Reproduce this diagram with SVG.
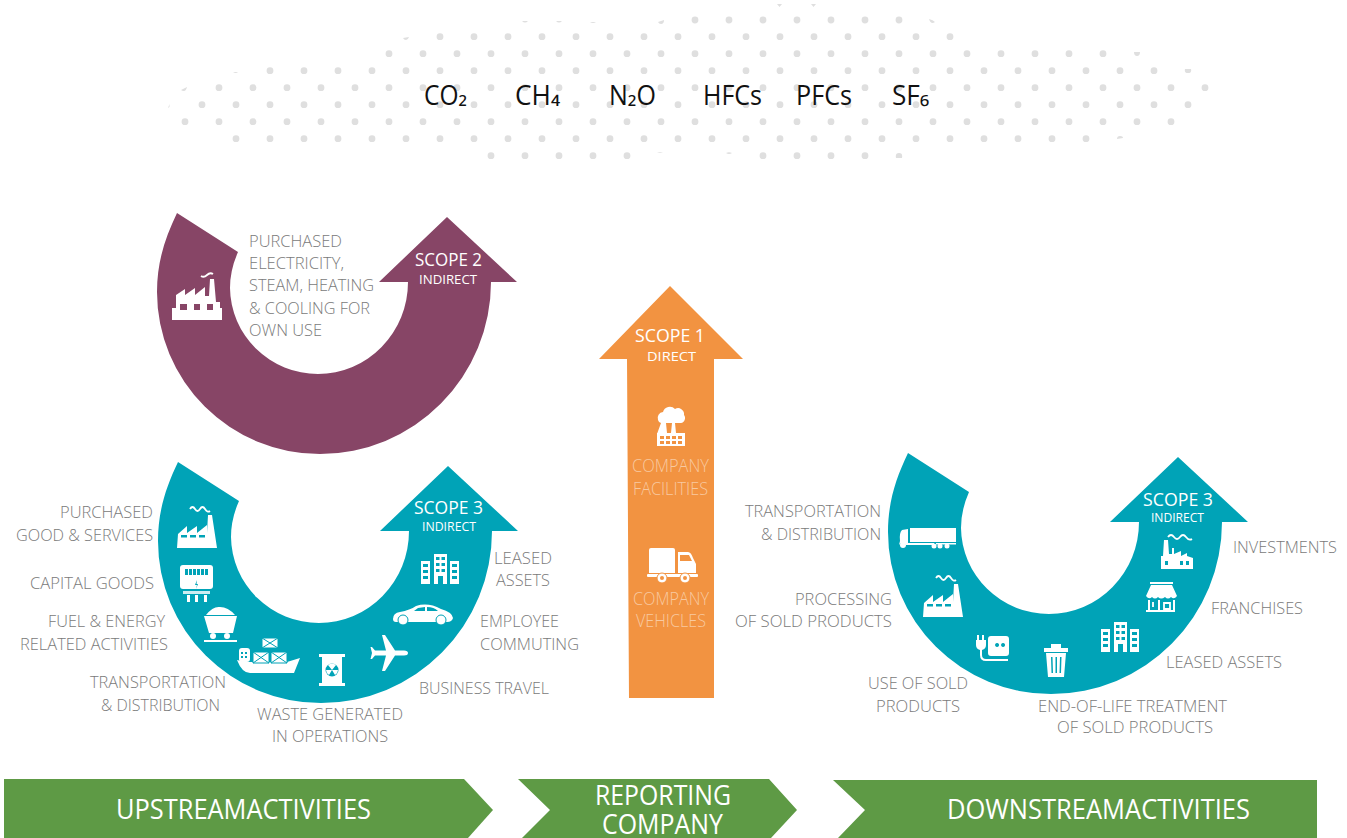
<svg xmlns="http://www.w3.org/2000/svg" width="1347" height="838" viewBox="0 0 1347 838">
<style>
text{font-family:"Open Sans","Noto Sans","Liberation Sans",sans-serif;font-weight:300}
.gas{font-size:27px;fill:#111;font-weight:400}
.lb{font-size:16.5px;fill:#7a7a7a}
.sc{font-size:18.5px;fill:#fff;font-weight:400}
.sub{font-size:13.5px;fill:#fff;font-weight:400}
.co{font-size:18px;fill:#f8c9a0}
.bd{font-size:27px;fill:#fff;font-weight:400}
.dot{stroke:#dfdfdf;stroke-width:6.800;stroke-linecap:round;stroke-dasharray:0 34;fill:none}
.frag{fill:#dfdfdf}
.ic{fill:#fff}
.wv{fill:none;stroke:#fff;stroke-width:1.800}
.t{fill:#00a3b7}
.band{fill:#5e9a45}
</style>
<defs>
<path id="sweep" d="M177,213 L238,252 Q230,270 230,288 A88,87 0 0 0 318,374 A90,92 0 0 0 408,282 L379,282 L447,217 L517,282 L491,282 A171,172 0 0 1 320,454 A163,162 0 0 1 157,292 C157,262 165,238 177,213 Z"/>
<g id="factory">
<path class="ic" d="M177,548 L178,534 L187,526 V533 L197,526 V533 L207,525 V533 L208,515 L212,515 L217,548 Z"/>
<rect class="t" x="181" y="535" width="6" height="2.500"/><rect class="t" x="190" y="535" width="6" height="2.500"/><rect class="t" x="199" y="535" width="6" height="2.500"/>
<path class="wv" d="M190,509 Q192.500,505 195,509 T200,509 T205,509 T210,511"/>
</g>
<g id="building">
<path class="ic" d="M421,561 H430 V584 H421 Z M434,554 H447 V584 H443 V576 H438 V584 H434 Z M450,561 H459 V584 H450 Z"/>
<path class="t" d="M423,564 h5 v3 h-5 z M423,570 h5 v3 h-5 z M423,576 h5 v3 h-5 z M452,564 h5 v3 h-5 z M452,570 h5 v3 h-5 z M452,576 h5 v3 h-5 z M436,557 h3.500 v3 h-3.500 z M441.500,557 h3.500 v3 h-3.500 z M436,563 h3.500 v3 h-3.500 z M441.500,563 h3.500 v3 h-3.500 z M436,569 h3.500 v3 h-3.500 z M441.500,569 h3.500 v3 h-3.500 z"/>
</g>
</defs>

<g id="gases">
<line class="dot" x1="695" y1="20" x2="900" y2="20"/>
<line class="dot" x1="440" y1="36.700" x2="951" y2="36.700"/>
<line class="dot" x1="389" y1="53.700" x2="1104" y2="53.700"/>
<line class="dot" x1="270" y1="70.700" x2="1155" y2="70.700"/>
<line class="dot" x1="219" y1="87.700" x2="1206" y2="87.700"/>
<line class="dot" x1="202" y1="104.700" x2="1189" y2="104.700"/>
<line class="dot" x1="185" y1="121.700" x2="1172" y2="121.700"/>
<line class="dot" x1="236" y1="138.700" x2="1087" y2="138.700"/>
<line class="dot" x1="491" y1="155.700" x2="628" y2="155.700"/>
<line class="dot" x1="763" y1="155.700" x2="866" y2="155.700"/>
<path class="frag" d="M777,4 h5 l-2.500,3 z M811,4 h5 l-2.500,3 z M522,21 h6 q-3,3 -6,0 z M556,21 h6 q-3,3 -6,0 z M590,22 h6 q-3,2 -6,0 z M658,22 l6,-2 q0,4 -3,4 q-2,0 -3,-2 z M929,19 q4,1 6,3 q-4,3 -6,-3 z M403,38 l6,-1 q-1,3 -3,3 q-2,0 -3,-2 z M233,72 h5 q-2,2 -5,0 z M181,90 l6,-3 q-1,4 -3,4 q-2,0 -3,-1 z M168,108 l1.500,-4 v3 z M657,153 q3,-1.500 6,0 z M726,153 q3,-1.500 6,0 q-3,2 -6,0 z M1134,52 h6 q0,4 -3,4 q-3,0 -3,-4 z M1185,69 h6 q1,4 -3,4 q-4,0 -3,-4 z M1117,139 q0,-3 3,-3 q3,0 3,2 z M896,158 q-1,-5 3,-5 q4,0 3,5 z"/>
<text class="gas" x="424" y="105" textLength="43" lengthAdjust="spacingAndGlyphs">CO<tspan dy="-2">₂</tspan></text>
<text class="gas" x="515" y="105" textLength="45" lengthAdjust="spacingAndGlyphs">CH<tspan dy="-2">₄</tspan></text>
<text class="gas" x="609" y="105" textLength="47" lengthAdjust="spacingAndGlyphs">N<tspan dy="-2">₂</tspan><tspan dy="2">O</tspan></text>
<text class="gas" x="703" y="105" textLength="59" lengthAdjust="spacingAndGlyphs">HFCs</text>
<text class="gas" x="796" y="105" textLength="56" lengthAdjust="spacingAndGlyphs">PFCs</text>
<text class="gas" x="892" y="105" textLength="37" lengthAdjust="spacingAndGlyphs">SF<tspan dy="-2">₆</tspan></text>
</g>

<g id="scope2">
<use href="#sweep" fill="#874566"/>
<path class="ic" fill-rule="evenodd" d="M172,320 V308 H176 V295 L185,289 V295 L195,288 V295 L205,287 V296 H209 L210,279 H214 L216,302 H220 V308 H222 V320 Z M180,304 V310 H187 V304 Z M194,304 V310 H200 V304 Z M207,304 V310 H213 V304 Z"/>
<path class="wv" d="M201,276 Q204,278 207,275 T213,274"/>
<text class="lb" x="249" y="247" textLength="93" lengthAdjust="spacingAndGlyphs">PURCHASED</text>
<text class="lb" x="249" y="269" textLength="95" lengthAdjust="spacingAndGlyphs">ELECTRICITY,</text>
<text class="lb" x="249" y="291" textLength="125" lengthAdjust="spacingAndGlyphs">STEAM, HEATING</text>
<text class="lb" x="249" y="314" textLength="121" lengthAdjust="spacingAndGlyphs">&amp; COOLING FOR</text>
<text class="lb" x="249" y="336" textLength="73" lengthAdjust="spacingAndGlyphs">OWN USE</text>
<text class="sc" x="415" y="266" textLength="67" lengthAdjust="spacingAndGlyphs">SCOPE 2</text>
<text class="sub" x="419" y="284" textLength="58" lengthAdjust="spacingAndGlyphs">INDIRECT</text>
</g>

<g id="scope3-upstream">
<use href="#sweep" fill="#00a3b7" transform="translate(1,249)"/>
<use href="#factory"/>
<g id="meter"><rect class="ic" x="180" y="565" width="33" height="24" rx="3"/><path class="t" d="M185,569 h3 v6 h-3 z M189,569 h3 v6 h-3 z M193,569 h3 v6 h-3 z M197,569 h3 v6 h-3 z M201,569 h3 v6 h-3 z M205,569 h3 v6 h-3 z"/><rect class="ic" x="183" y="591" width="27" height="3" opacity=".8"/><rect class="ic" x="187" y="595" width="3" height="7"/><rect class="ic" x="195" y="595" width="3" height="7"/><rect class="ic" x="204" y="595" width="3" height="7"/><path class="t" d="M197,580 L195,585 H197 L196,589 L198,584 H196.500 Z"/></g>
<g id="cart"><path class="ic" d="M206,615 Q213,606 220,607 Q228,607 235,615 Z M204,616 H237 L233,633 H209 Z"/><rect class="ic" x="204" y="640" width="33" height="2"/><circle class="ic" cx="213" cy="636" r="3"/><circle class="ic" cx="227" cy="636" r="3"/></g>
<g id="ship"><path class="ic" d="M237,660 L245,662 H287 L300,658 L294,673 H250 Q242,673 237,660 Z"/><rect class="ic" x="239" y="648" width="11" height="14" rx="3"/><path class="t" d="M241,652 h2 v2 h-2 z M245,652 h2 v2 h-2 z M241,656 h2 v2 h-2 z M245,656 h2 v2 h-2 z"/>
<g stroke="#00a3b7" stroke-width="1"><path class="ic" d="M262,638 h16 v10 h-16 z M262,638 l16,10 M278,638 l-16,10"/><path class="ic" d="M253,652 h16 v11 h-16 z M253,652 l16,11 M269,652 l-16,11"/><path class="ic" d="M271,652 h16 v11 h-16 z M271,652 l16,11 M287,652 l-16,11"/></g></g>
<g id="barrel"><rect class="ic" x="319" y="654" width="26" height="3"/><rect class="ic" x="319" y="683" width="26" height="3"/><rect class="ic" x="322" y="656" width="20" height="28"/><circle class="t" cx="332" cy="670" r="6.500"/><path class="ic" d="M332,670 L328,665 A6,6 0 0 1 336,665 Z M332,670 L338,670 A6,6 0 0 1 335,675 Z M332,670 L329,675 A6,6 0 0 1 326,670 Z"/></g>
<g id="plane"><path class="ic" d="M408,653 Q408,650.500 404,650.500 H395 L385,635 H382 L386,650.500 H375 L372,647 H370.500 L372,653 L370.500,659 H372 L375,655.500 H386 L382,671 H385 L395,655.500 H404 Q408,655.500 408,653 Z"/></g>
<g id="car"><path class="ic" fill-rule="evenodd" d="M393,619 Q393,613 400,612 Q410,610 416,606 Q428,602 441,609 Q452,612 453,618 Q452,622 447,622 H396 Q393,622 393,619 Z M418,608 L414,611 H425 V607 Z M427,607 V611 H438 Q434,607 427,607 Z"/><circle cx="403" cy="620" r="5" fill="#fff" stroke="#00a3b7"/><circle cx="441" cy="620" r="5" fill="#fff" stroke="#00a3b7"/></g>
<use href="#building"/>
<text class="lb" x="60" y="518" textLength="93" lengthAdjust="spacingAndGlyphs">PURCHASED</text>
<text class="lb" x="16" y="541" textLength="137" lengthAdjust="spacingAndGlyphs">GOOD &amp; SERVICES</text>
<text class="lb" x="30" y="589" textLength="124" lengthAdjust="spacingAndGlyphs">CAPITAL GOODS</text>
<text class="lb" x="48" y="627" textLength="117" lengthAdjust="spacingAndGlyphs">FUEL &amp; ENERGY</text>
<text class="lb" x="20" y="650" textLength="148" lengthAdjust="spacingAndGlyphs">RELATED ACTIVITIES</text>
<text class="lb" x="90" y="688" textLength="136" lengthAdjust="spacingAndGlyphs">TRANSPORTATION</text>
<text class="lb" x="101" y="711" textLength="119" lengthAdjust="spacingAndGlyphs">&amp; DISTRIBUTION</text>
<text class="lb" x="257" y="720" textLength="146" lengthAdjust="spacingAndGlyphs">WASTE GENERATED</text>
<text class="lb" x="272" y="742" textLength="116" lengthAdjust="spacingAndGlyphs">IN OPERATIONS</text>
<text class="lb" x="494" y="564" textLength="58" lengthAdjust="spacingAndGlyphs">LEASED</text>
<text class="lb" x="496" y="586" textLength="54" lengthAdjust="spacingAndGlyphs">ASSETS</text>
<text class="lb" x="480" y="627" textLength="79" lengthAdjust="spacingAndGlyphs">EMPLOYEE</text>
<text class="lb" x="480" y="650" textLength="99" lengthAdjust="spacingAndGlyphs">COMMUTING</text>
<text class="lb" x="419" y="694" textLength="130" lengthAdjust="spacingAndGlyphs">BUSINESS TRAVEL</text>
<text class="sc" x="414" y="514" textLength="69" lengthAdjust="spacingAndGlyphs">SCOPE 3</text>
<text class="sub" x="422" y="531" textLength="54" lengthAdjust="spacingAndGlyphs">INDIRECT</text>
</g>

<g id="scope1">
<path fill="#f29341" d="M670,286 L743,359 H714 V698 H629 L627,359 H599 Z"/>
<g id="facility"><path class="ic" d="M658,420 A6,6 0 0 1 663,412 A7,7 0 0 1 675,409 A6,6 0 0 1 684,415 A5,5 0 0 1 681,423 H661 A4,4 0 0 1 658,420 Z M661,423 H666 L667,433 H671 L672,423 H675 L676,433 H681 L682,433 V434 H657 Z"/><path class="ic" fill-rule="evenodd" d="M657,433 H685 V446 H657 Z M660,436 v3 h4 v-3 z M666,436 v3 h4 v-3 z M672,436 v3 h4 v-3 z M678,436 v3 h4 v-3 z M660,441 v3 h4 v-3 z M666,441 v3 h4 v-3 z M672,441 v3 h4 v-3 z M678,441 v3 h4 v-3 z"/></g>
<g id="truck1"><path class="ic" d="M651,548 H673 Q675,548 675,550 V573 H649 V550 Q649,548 651,548 Z"/><path class="ic" fill-rule="evenodd" d="M678,552 H688 Q691,552 693,558 L696,564 V573 H678 Z M680,555 V561 H692 L689,555 Z"/><rect class="ic" x="647" y="574" width="51" height="3" rx="1"/><circle class="ic" cx="662" cy="578" r="5" stroke="#f29341"/><circle cx="662" cy="578" r="2" fill="#f29341"/><circle class="ic" cx="685" cy="578" r="5" stroke="#f29341"/><circle cx="685" cy="578" r="2" fill="#f29341"/></g>
<text class="sc" x="635" y="342" textLength="70" lengthAdjust="spacingAndGlyphs">SCOPE 1</text>
<text class="sub" x="647" y="361" textLength="49" lengthAdjust="spacingAndGlyphs">DIRECT</text>
<text class="co" x="632" y="472" textLength="77" lengthAdjust="spacingAndGlyphs">COMPANY</text>
<text class="co" x="633" y="495" textLength="75" lengthAdjust="spacingAndGlyphs">FACILITIES</text>
<text class="co" x="633" y="605" textLength="76" lengthAdjust="spacingAndGlyphs">COMPANY</text>
<text class="co" x="636" y="627" textLength="70" lengthAdjust="spacingAndGlyphs">VEHICLES</text>
</g>

<g id="scope3-downstream">
<use href="#sweep" fill="#00a3b7" transform="translate(731,240)"/>
<use href="#factory" transform="translate(746,69)"/>
<g id="truck2"><path class="ic" d="M910,528 H956 V542 H910 Z M900,541 Q899,533 902,530 L908,529 V543 H934 V545 H906 A4,4 0 0 0 899,545 Z M936,543 H956 V544.500 H936 Z"/><circle class="ic" cx="903" cy="545" r="3"/><circle class="ic" cx="934" cy="546" r="2.500"/><circle class="ic" cx="940" cy="546" r="2.500"/><circle class="ic" cx="947" cy="546" r="2.500"/></g>
<g id="plug"><path class="ic" fill-rule="evenodd" d="M991,636 H1006 Q1009,636 1009,639 V653 Q1009,656 1006,656 H991 Q988,656 988,653 V639 Q988,636 991,636 Z M997,643 a2,2 0 1 0 .1,0 Z M1003,643 a2,2 0 1 0 .1,0 Z"/><path class="ic" d="M977,635 h2 v5 h3 v-5 h2 v5 h2 v5 q0,4 -4,5 v5 q0,4 4,4 h22 v2 h-22 q-6,0 -6,-6 v-5 q-4,-1 -4,-5 v-5 h1 Z"/></g>
<g id="trash"><path class="ic" d="M1051,648 V644 H1061 V648 H1068 V652 H1044 V648 Z M1046,653 H1066 L1064,677 H1048 Z"/><path class="t" d="M1051,657 h1.500 l.5,16 h-1.500 z M1055.500,657 h1.500 v16 h-1.500 z M1060,657 h1.500 l-.5,16 h-1.500 z"/></g>
<use href="#building" transform="translate(680,68)"/>
<g id="store"><path class="ic" fill-rule="evenodd" d="M1150,582 H1173 V584 H1150 Z M1151,585 H1172 L1177,596 Q1174,600 1171,597 Q1168,600 1165,597 Q1161,600 1158,597 Q1155,600 1152,597 Q1149,600 1146,596 Z M1148,600 H1150 V610 H1158 V600 H1160 V610 H1173 V600 H1175 V612 H1146 V610 H1148 Z"/><path class="wv" stroke-width="1" d="M1164,603 h6 v6 h-6 z M1153,602 v5"/></g>
<g id="invest"><path class="ic" fill-rule="evenodd" d="M1161,569 V556 H1163 L1164,540 H1168 L1169,554 L1172,554 V548 H1174 V554 L1181,551 V556 L1187,553 V556 L1193,558 V569 Z M1165,561 v4 h3 v-4 z M1180,561 v4 h3 v-4 z M1186,561 v4 h3 v-4 z"/><path class="wv" d="M1168,537 Q1171,533 1174,537 T1180,537 T1186,537 T1192,539"/></g>
<text class="lb" x="745" y="517" textLength="136" lengthAdjust="spacingAndGlyphs">TRANSPORTATION</text>
<text class="lb" x="761" y="540" textLength="120" lengthAdjust="spacingAndGlyphs">&amp; DISTRIBUTION</text>
<text class="lb" x="795" y="605" textLength="97" lengthAdjust="spacingAndGlyphs">PROCESSING</text>
<text class="lb" x="735" y="627" textLength="157" lengthAdjust="spacingAndGlyphs">OF SOLD PRODUCTS</text>
<text class="lb" x="868" y="689" textLength="100" lengthAdjust="spacingAndGlyphs">USE OF SOLD</text>
<text class="lb" x="876" y="712" textLength="84" lengthAdjust="spacingAndGlyphs">PRODUCTS</text>
<text class="lb" x="1233" y="553" textLength="104" lengthAdjust="spacingAndGlyphs">INVESTMENTS</text>
<text class="lb" x="1211" y="614" textLength="92" lengthAdjust="spacingAndGlyphs">FRANCHISES</text>
<text class="lb" x="1166" y="668" textLength="116" lengthAdjust="spacingAndGlyphs">LEASED ASSETS</text>
<text class="lb" x="1038" y="712" textLength="189" lengthAdjust="spacingAndGlyphs">END-OF-LIFE TREATMENT</text>
<text class="lb" x="1057" y="733" textLength="156" lengthAdjust="spacingAndGlyphs">OF SOLD PRODUCTS</text>
<text class="sc" x="1143" y="506" textLength="70" lengthAdjust="spacingAndGlyphs">SCOPE 3</text>
<text class="sub" x="1151" y="522" textLength="53" lengthAdjust="spacingAndGlyphs">INDIRECT</text>
</g>

<g id="band-upstream"><path class="band" d="M4,779 H464 L493,810 L468,838 H4 Z"/><text class="bd" x="116" y="819" textLength="255" lengthAdjust="spacingAndGlyphs">UPSTREAMACTIVITIES</text></g>
<g id="band-reporting"><path class="band" d="M518,779 H769 L797,810 L771,838 H522 L550,810 Z"/><text class="bd" x="595" y="805" textLength="136" lengthAdjust="spacingAndGlyphs">REPORTING</text><text class="bd" x="602" y="834" textLength="121" lengthAdjust="spacingAndGlyphs">COMPANY</text></g>
<g id="band-downstream"><path class="band" d="M833,780 H1317 V838 H838 L865,810 Z"/><text class="bd" x="947" y="819" textLength="303" lengthAdjust="spacingAndGlyphs">DOWNSTREAMACTIVITIES</text></g>
</svg>
